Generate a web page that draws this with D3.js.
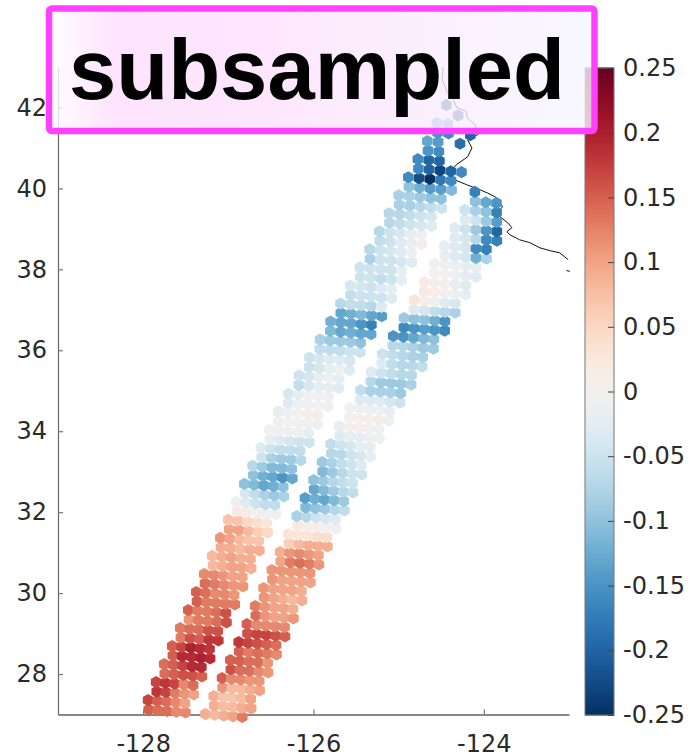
<!DOCTYPE html>
<html><head><meta charset="utf-8">
<script src="https://cdn.jsdelivr.net/npm/d3@7"></script>
<style>html,body{margin:0;padding:0;background:#fff}svg{display:block}</style></head>
<body><svg id="c" width="690" height="755"></svg>
<script>
const title = "subsampled";
const lonTicks = [-128,-126,-124];
const latTicks = [28,30,32,34,36,38,40,42];
const cbarTicks = [-0.25,-0.2,-0.15,-0.1,-0.05,0,0.05,0.1,0.15,0.2,0.25];
const cbarLabels = ["-0.25","-0.2","-0.15","-0.1","-0.05","0","0.05","0.1","0.15","0.2","0.25"];
// nadir-gap ground track
const trackLat = [27.01,31.88,32.30,34.21,35.59,36.70,39.79,42.19];
const trackLon = [-127.39,-126.33,-126.24,-125.81,-125.42,-125.10,-124.28,-123.65];
// coastline
const coastLon = [-123.01,-123.11,-123.22,-123.34,-123.46,-123.58,-123.69,-123.73,-123.67,-123.72,-123.81,-123.83,-123.78,-123.85,-123.96,-124.05,-124.20,-124.34,-124.40,-124.32,-124.19,-124.14,-124.19,-124.07,-124.10,-124.20,-124.20,-124.32,-124.36,-124.43,-124.49,-124.48];
const coastLat = [38.24,38.41,38.46,38.53,38.66,38.73,38.85,38.93,39.03,39.15,39.30,39.42,39.55,39.77,39.89,39.97,40.09,40.21,40.39,40.59,40.78,41.0,41.2,41.33,41.57,41.75,41.9,42.0,42.2,42.37,42.69,43.0];
const isletLon = [-123.03,-122.99];
const isletLat = [37.97,37.95];
// swath values per along-track row, hundredths; left: outer to inner, right: inner to outer
const leftSwath = [
[15,14,14,12,12],[17,15,14,12,10],[18,17,13,11,10],[17,18,17,12,14],[14,15,16,16,15],
[14,15,17,19,19],[15,19,19,20,19],[15,17,20,19,18],[13,16,15,18,18],[13,14,14,16,16],
[11,13,13,14,16],[15,13,13,14,16],[15,13,13,13,13],[15,14,12,12,11],[14,13,12,11,11],
[12,12,11,10,10],[8,9,10,10,9],[8,9,10,9,9],[9,9,8,9,9],[11,10,8,7,7],
[10,10,8,6,5],[7,7,5,4,3],[2,2,0,-1,-1],[-1,-3,-5,-6,-6],[-4,-6,-8,-9,-8],
[-10,-11,-13,-12,-10],[-10,-12,-13,-15,-13],[-7,-9,-11,-11,-10],[-5,-8,-9,-9,-7],[-3,-5,-6,-6,-6],
[-2,-3,-4,-5,-5],[0,-1,-1,-1,-2],[-1,0,0,-1,-1],[-2,-1,0,1,1],[-3,-1,-1,0,-1],
[-4,-2,-1,-1,-1],[-6,-4,-2,-2,-3],[-5,-4,-2,-1,-2],[-5,-4,-2,-1,-3],[-5,-4,-3,-3,-4],
[-6,-6,-6,-5,-5],[-8,-9,-9,-9,-10],[-11,-13,-12,-13,-13],[-12,-13,-13,-15,-17],[-13,-12,-11,-13,-14],
[-7,-6,-6,-7,-3],[-6,-5,-5,-5,-3],[-4,-4,-5,-3,-2],[-5,-5,-6,-5,-2],[-5,-5,-5,-5,-2],
[-8,-5,-5,-4,-3],[-7,-5,-4,-3,-1],[-6,-5,-3,-2,1],[-7,-5,-4,-2,-1],[-7,-6,-5,-4,-3],
[-7,-7,-6,-5,-4],[-8,-8,-7,-6,-5],[-8,-8,-9,-10,-10],[-10,-12,-14,-14,-11],[-16,-22,-25,-18,-16],
[-16,-20,-23,-20,-16],[-16,-20,-20,null,null],[-15,-16,null,null,null],[-13,-14,null,-19,null],[-15,-16,null,-20,null],
[-12,-13,null,null,null],[null,-20,null,null,null],[-20,null,null,null,null]
];
const rightSwath = [
[9,8,9,10,13],[9,8,8,9,10],[9,7,7,8,10],[11,8,8,9,10],[15,12,12,11,11],
[16,14,14,12,11],[15,15,14,14,11],[15,13,14,13,12],[18,17,16,15,14],[16,17,17,16,15],
[15,12,12,12,12],[14,11,10,10,11],[13,11,10,10,9],[11,10,9,8,9],[11,10,10,10,9],
[11,10,10,10,10],[11,11,11,11,11],[10,13,14,13,11],[9,11,12,11,10],[6,8,9,9,9],
[3,3,3,4,4],[2,1,1,0,-1],[-8,-7,-5,-4,-3],[-11,-10,-9,-7,-6],[-14,-12,-13,-11,-9],
[-13,-11,-9,-7,-6],[-10,-9,-7,-6,-5],[-11,-9,-7,-5,-5],[-9,-8,-6,-5,-3],[-7,-7,-5,-4,-2],
[-6,-5,-4,-2,-2],[-3,-2,-2,-1,-1],[-2,0,0,0,-1],[0,1,1,1,-1],[0,-1,-1,-1,-2],
[-3,-3,-3,-4,-5],[-6,-8,-8,-8,-9],[-7,-9,-9,-9,-8],[-3,-5,-6,-7,-7],[-3,-6,-7,-7,-6],
[-5,-6,-7,-8,-8],[-7,-7,-8,-9,-9],[-15,-15,-13,-11,-10],[-16,-15,-14,-15,-16],[-9,-10,-10,-12,-15],
[-3,-4,-6,-7,-8],[3,1,-1,-3,-4],[2,1,0,-1,-2],[2,1,0,-2,-3],[0,0,-1,-2,-3],
[-1,-1,-1,-2,-2],[-2,-3,-4,-12,-8],[-2,-3,-4,-16,-17],[-3,-4,-7,-16,-17],[-3,-5,-9,-15,-20],
[-3,-5,-9,-14,null],[-5,-8,-10,-17,null],[-10,-13,-15,null,null],[-17,null,null,null,null]
];
const W=690,H=755,L=58,R=569,T=67,B=714.5;
const svg=d3.select("#c");
const x=d3.scaleLinear().domain([-129,-123]).range([L,R]);
const y=d3.scaleLinear().domain([27,43]).range([B,T]);
const gapLon=d3.scaleLinear().domain(trackLat).range(trackLon);
const colorV=d3.scaleLinear().domain([-0.25,0.25]).range([1,0]);
const color=v=>d3.interpolateRdBu(colorV(v));

const rowStep=0.2225, firstLat=27.03;
const colPx=9.2, gapPx=10, r=6.1;
function cell(side,row,col,val){
  const lat0=firstLat+row*rowStep;
  const stretch=Math.cos(27*Math.PI/180)/Math.cos(lat0*Math.PI/180);
  const idx=side<0?4-col:col;
  const off=side*(gapPx+(idx+((row%2)?0.5:0))*colPx)*stretch/85.17;
  const lon=gapLon(lat0)+off;
  const lat=lat0-0.168*off;
  return {lon,lat,v:val/100};
}
const cells=[];
leftSwath.forEach((rw,i)=>rw.forEach((v,j)=>{if(v!==null)cells.push(cell(-1,i,j,v));}));
rightSwath.forEach((rw,i)=>rw.forEach((v,j)=>{if(v!==null)cells.push(cell(1,i,j,v));}));

// axes
const gx=svg.append("g").attr("transform",`translate(0,${B})`)
  .call(d3.axisBottom(x).tickValues(lonTicks).tickSizeInner(-5).tickSizeOuter(0).tickPadding(20).tickFormat(d3.format("d")));
const gy=svg.append("g").attr("transform",`translate(${L},0)`)
  .call(d3.axisLeft(y).tickValues(latTicks).tickSizeInner(-5).tickSizeOuter(0).tickPadding(11).tickFormat(d3.format("d")));
[gx,gy].forEach(g=>{
  g.selectAll("text").attr("fill","#2a2a2a").style("font","24px 'DejaVu Sans'").text(function(d){return String(d);});
  g.selectAll("line").attr("stroke","#777").attr("stroke-width",1.2);
});
gx.select(".domain").attr("stroke","#888").attr("stroke-width",2);
gy.select(".domain").attr("stroke","#666").attr("stroke-width",1.2);

// coastline
const line=d3.line().x(d=>x(d[0])).y(d=>y(d[1]));
svg.append("path").attr("d",line(d3.zip(coastLon,coastLat))).attr("fill","none").attr("stroke","#111").attr("stroke-width",1);
svg.append("path").attr("d",line(d3.zip(isletLon,isletLat))).attr("fill","none").attr("stroke","#111").attr("stroke-width",1);

// hexagon cells
const hex=d3.range(6).map(k=>[r*Math.sin(k*Math.PI/3),r*Math.cos(k*Math.PI/3)]);
const hexPath="M"+hex.map(p=>p.map(n=>n.toFixed(2)).join(",")).join("L")+"Z";
svg.append("g").selectAll("path").data(cells).join("path")
  .attr("d",hexPath).attr("transform",d=>`translate(${x(d.lon)},${y(d.lat)})`)
  .attr("fill",d=>color(d.v));

// colorbar
const cbX0=585,cbX1=614;
const cb=d3.scaleLinear().domain([-0.25,0.25]).range([715,68]);
svg.append("g").selectAll("rect").data(d3.range(-0.25,0.25,0.5/647)).join("rect")
  .attr("x",cbX0).attr("width",cbX1-cbX0).attr("y",d=>cb(d)-1.5).attr("height",2).attr("fill",d=>color(d));
svg.append("rect").attr("x",cbX0).attr("y",68).attr("width",cbX1-cbX0).attr("height",647).attr("fill","none").attr("stroke","#777").attr("stroke-width",1);
const gc=svg.append("g").attr("transform",`translate(${cbX1},0)`)
  .call(d3.axisRight(cb).tickValues(cbarTicks).tickSizeInner(-6).tickSizeOuter(0).tickPadding(9).tickFormat((d,i)=>cbarLabels[i]));
gc.select(".domain").remove();
gc.selectAll("text").attr("fill","#2a2a2a").style("font","24px 'DejaVu Sans'");
gc.selectAll("line").attr("stroke","#444").attr("stroke-width",1);

// banner
const defs=svg.append("defs");
const grad=defs.append("linearGradient").attr("id","bn");
[[0,"#ffffff"],[0.12,"#fddcfd"],[0.4,"#fde0fd"],[0.75,"#faeefe"],[1,"#f5f6ff"]].forEach(s=>grad.append("stop").attr("offset",s[0]).attr("stop-color",s[1]));
svg.append("rect").attr("x",49).attr("y",8.5).attr("width",545.5).attr("height",122.5).attr("rx",3)
  .attr("fill","url(#bn)").attr("fill-opacity",0.8).attr("stroke","#ff40ff").attr("stroke-width",6.5);
svg.append("text").attr("x",69).attr("y",99).attr("fill","#000")
  .style("font","bold 85px 'Liberation Sans'").text(title);
</script></body></html>
